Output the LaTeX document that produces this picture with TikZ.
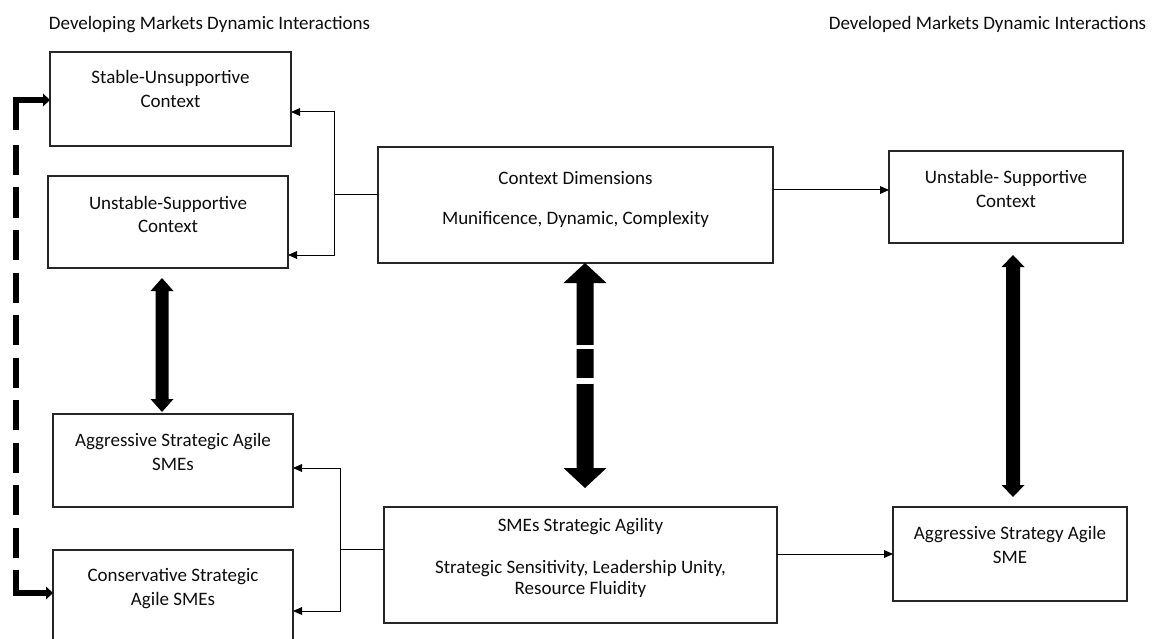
\documentclass[tikz,border=0pt]{standalone}
\usepackage{fontspec}
\setmainfont{Carlito}
\usetikzlibrary{arrows.meta,calc}

% text block of fixed size, first baseline #3 below the top edge
\newcommand\boxtext[4]{\parbox[c][#2][t]{#1}{\centering\vspace*{\dimexpr#3-0.7\baselineskip\relax}\strut#4}}

% solid double-headed block arrow between two points on one vertical
% #1 top tip, #2 bottom tip, #3 shaft width, #4 head width, #5 head length
\newcommand\fatarrow[5]{%
  \fill (#1) -- ++(#4/2,#5) -- ++(-#4/2+#3/2,0) -- ($(#2)+(#3/2,-#5)$)
    -- ++(#4/2-#3/2,0) -- (#2) -- ++(-#4/2,-#5) -- ++(#4/2-#3/2,0)
    -- ($(#1)+(-#3/2,#5)$) -- ++(-#4/2+#3/2,0) -- cycle;}

\tikzset{
  frame/.style={draw=black!85, line width=1.1pt, inner sep=0pt, outer sep=0pt,
    anchor=north west, font=\fontsize{19}{24}\selectfont, text=black!95},
  heading/.style={font=\fontsize{19}{24}\selectfont, text=black!95,
    inner sep=0pt, anchor=base},
  link/.style={line width=1pt, draw=black},
  tip/.style={-{Triangle[width=8pt,length=9pt,line width=0pt]}},
  dashlink/.style={line width=6pt, line join=miter,
    dash pattern=on 57pt off 15pt on 30pt off 12.5pt on 30pt off 12.5pt
      on 30pt off 12.5pt on 30pt off 12.5pt on 30pt off 12.5pt
      on 30pt off 12.5pt on 30pt off 12.5pt on 30pt off 12.5pt
      on 30pt off 12.5pt on 30pt off 12.5pt on 120pt off 10pt,
    {Triangle[width=13pt,length=7pt,line width=0pt]}-{Triangle[width=13pt,length=7pt,line width=0pt]}},
}

\begin{document}
\begin{tikzpicture}[x=1pt,y=-1pt]
  \clip (0,0) rectangle (1153,639);
  \fill[white] (0,0) rectangle (1153,639);

  % column headings
  \node[heading] (hdev) at (209.5,30) {Developing Markets Dynamic Interactions};
  \node[heading] (hdvd) at (987.5,30) {Developed Markets Dynamic Interactions};

  % boxes
  \node[frame] (stable) at (50,52) {\boxtext{241pt}{94pt}{32pt}{Stable-Unsupportive\\Context}};
  \node[frame] (unsupL) at (48,176) {\boxtext{240pt}{92pt}{33pt}{Unstable-Supportive\\Context}};
  \node[frame] (context) at (378,147) {\boxtext{395pt}{116pt}{37pt}{Context Dimensions\\[16pt]Munificence, Dynamic, Complexity}};
  \node[frame] (unsupR) at (889,151) {\boxtext{234pt}{92pt}{33pt}{Unstable- Supportive\\Context}};
  \node[frame] (aggL) at (53,414) {\boxtext{240pt}{93pt}{32pt}{Aggressive Strategic Agile\\SMEs}};
  \node[frame] (consL) at (53,550) {\boxtext{240pt}{110pt}{31pt}{Conservative Strategic\\Agile SMEs}};
  \node[frame, font=\fontsize{19}{21}\selectfont] (smes) at (384,507)
    {\boxtext{393pt}{116pt}{24pt}{SMEs Strategic Agility\\[21pt]Strategic Sensitivity, Leadership Unity,\\Resource Fluidity}};
  \node[frame] (aggR) at (893,507) {\boxtext{234pt}{94pt}{32pt}{Aggressive Strategy Agile\\SME}};

  % context dimensions split into the two developing-market contexts
  \coordinate (jc) at (334,195);
  \draw[link] (context.west |- jc) -- (jc);
  \draw[link,tip] (jc) |- (stable.east |- 0,112);
  \draw[link,tip] (jc) |- (unsupL.east |- 0,255);
  \draw[link,tip] (context.east |- 0,190) -- (unsupR.west |- 0,190);

  % strategic agility split into the two SME types
  \coordinate (js) at (340,549);
  \draw[link] (smes.west |- js) -- (js);
  \draw[link,tip] (js) |- (aggL.east |- 0,468);
  \draw[link,tip] (js) |- (consL.east |- 0,611);
  \draw[link,tip] (smes.east |- 0,554) -- (aggR.west |- 0,554);

  % block arrows
  \coordinate (lt) at ($(unsupL.south)+(-6,10)$);
  \coordinate (lb) at ($(aggL.north)+(-11,-2)$);
  \fatarrow{lt}{lb}{13}{23}{13}
  \coordinate (mt) at ($(context.south)+(9.5,0)$);
  \coordinate (mb) at ($(smes.north)+(4.5,-19)$);
  \fatarrow{mt}{mb}{17}{43}{20}
  \fill[white] ($(mt)+(-10,82)$) rectangle ($(mt)+(10,86)$);
  \fill[white] ($(mt)+(-10,115)$) rectangle ($(mt)+(10,121)$);
  \coordinate (rt) at ($(unsupR.south)+(7,12)$);
  \coordinate (rb) at ($(aggR.north)+(3,-10)$);
  \fatarrow{rt}{rb}{14}{23}{12}

  % dashed feedback loop between the two outer left boxes
  \coordinate (dt) at (16,100);
  \coordinate (db) at (16,593);
  \draw[dashlink] (stable.west |- dt) -- (dt) -- (db) -- (consL.west |- db);
\end{tikzpicture}
\end{document}
